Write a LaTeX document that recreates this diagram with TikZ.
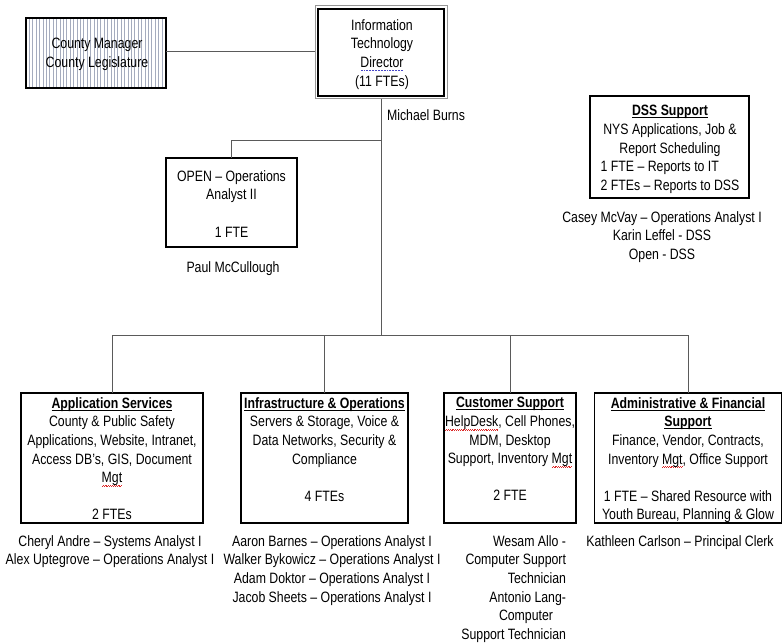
\documentclass[tikz,border=0pt]{standalone}
\usepackage{fontspec}
\setmainfont{Liberation Sans}[FakeStretch=0.82]
\definecolor{linegray}{RGB}{90,90,90}
\definecolor{outergray}{RGB}{150,150,150}
\definecolor{stripecol}{RGB}{165,172,190}
\definecolor{spellred}{RGB}{220,40,40}
\definecolor{gramblue}{RGB}{70,70,200}
\newcommand\ttl[1]{\underline{\raisebox{0pt}[\height][0pt]{\textbf{#1}}}}
\newcommand\spell[1]{\leavevmode\setbox0=\hbox{#1}\rlap{\textcolor{spellred}{\hbox to \wd0{\xleaders\hbox{\rule[-3.6pt]{0.9pt}{0.6pt}\rule[-2.8pt]{0.9pt}{0.6pt}}\hfill}}}\box0}
\newcommand\gram[1]{\leavevmode\setbox0=\hbox{#1}\rlap{\textcolor{gramblue}{\hbox to \wd0{\xleaders\hbox{\kern0.4pt\rule[-3pt]{0.7pt}{0.7pt}\kern0.4pt}\hfill}}}\box0}
\begin{document}
\begin{tikzpicture}[x=1pt,y=-1pt,
  every node/.style={font=\fontsize{15pt}{18.6pt}\selectfont, inner sep=0pt, outer sep=0pt},
  box/.style={draw=black, line width=1.4pt},
  txt/.style={anchor=north, align=center},
  conn/.style={draw=linegray, line width=1pt}]
\useasboundingbox (0,0) rectangle (783,644);
\fill[white] (0,0) rectangle (783,644);

% County manager box with vertical stripes
\foreach \x in {29.4,32.8,...,164} \draw[stripecol, line width=0.7pt] (\x,19) -- (\x,87);
\node[box, minimum width=140pt, minimum height=70pt] (cm) at (96,53) {};
\node[txt] (cmt) at (97,38.5) {County Manager\\County Legislature};

% Director box (double border)
\node[draw=outergray, line width=1pt, minimum width=132pt, minimum height=93pt] (dirout) at (381,52.5) {};
\node[box, minimum width=126pt, minimum height=87pt] (dir) at (381,52.5) {};
\node[txt] (dirt) at (382,19.5) {Information\\Technology\\\gram{Director}\\(11 FTEs)};
\node[anchor=north] (mb) at (426,109.5) {Michael Burns};

% Open box
\node[box, minimum width=131pt, minimum height=89pt] (open) at (231.5,202.5) {};
\node[txt] (opent) at (231.5,170.5) {OPEN – Operations\\Analyst II\\~\\1 FTE};
\node[anchor=north] (paul) at (233,261.5) {Paul McCullough};

% DSS box
\node[box, minimum width=159pt, minimum height=102pt] (dss) at (669.5,147) {};
\node[txt] (dsst) at (670,105.5) {\ttl{DSS Support}\\NYS Applications, Job \&\\Report Scheduling\\\begin{tabular}[t]{@{}l@{}}1 FTE – Reports to IT\\2 FTEs – Reports to DSS\end{tabular}};
\node[txt] (dssn) at (662,211.5) {Casey McVay – Operations Analyst I\\Karin Leffel - DSS\\Open - DSS};

% Bottom boxes
\node[box, minimum width=182pt, minimum height=130pt] (app) at (112,458) {};
\node[txt] (appt) at (112,397.5) {\ttl{Application Services}\\County \& Public Safety\\Applications, Website, Intranet,\\Access DB’s, GIS, Document\\\spell{Mgt}\\~\\2 FTEs};
\node[txt] (appn) at (110,535.5) {Cheryl Andre – Systems Analyst I\\Alex Uptegrove – Operations Analyst I};

\node[box, minimum width=167pt, minimum height=130pt] (inf) at (324.5,458) {};
\node[txt] (inft) at (324.5,397.5) {\ttl{Infrastructure \& Operations}\\Servers \& Storage, Voice \&\\Data Networks, Security \&\\Compliance\\~\\4 FTEs};
\node[txt] (infn) at (332,535.5) {Aaron Barnes – Operations Analyst I\\Walker Bykowicz – Operations Analyst I\\Adam Doktor – Operations Analyst I\\Jacob Sheets – Operations Analyst I};

\node[box, minimum width=132pt, minimum height=130pt] (cus) at (510,458) {};
\node[txt] (cust) at (510,397.5) {\ttl{Customer Support}\\\spell{HelpDesk}, Cell Phones,\\MDM, Desktop\\Support, Inventory \spell{Mgt}\\~\\2 FTE};
\node[anchor=north east, align=right] (cusn) at (566,535.5) {Wesam Allo -\\Computer Support\\Technician\\Antonio Lang-\\Computer\rule{13pt}{0pt}\\Support Technician};

\node[box, minimum width=187pt, minimum height=130pt] (adm) at (688,458) {};
\node[txt] (admt) at (688,397.5) {\ttl{Administrative \& Financial}\\\ttl{Support}\\Finance, Vendor, Contracts,\\Inventory \spell{Mgt}, Office Support\\~\\1 FTE – Shared Resource with\\Youth Bureau, Planning \& Glow};
\node[txt] (admn) at (680,535.5) {Kathleen Carlson – Principal Clerk};

% Connectors
\coordinate (bus) at (381,335);
\coordinate (tap) at (381,141);
\draw[conn] (cm.east |- 0,52) -- (dirout.west |- 0,52);
\draw[conn] (dirout.south) -- (bus);
\draw[conn] (open.north) |- (tap);
\draw[conn] (app.north |- bus) -- (adm.north |- bus);
\draw[conn] (app.north |- bus) -- (app.north);
\draw[conn] (inf.north |- bus) -- (inf.north);
\draw[conn] (cus.north |- bus) -- (cus.north);
\draw[conn] (adm.north |- bus) -- (adm.north);
\end{tikzpicture}
\end{document}
